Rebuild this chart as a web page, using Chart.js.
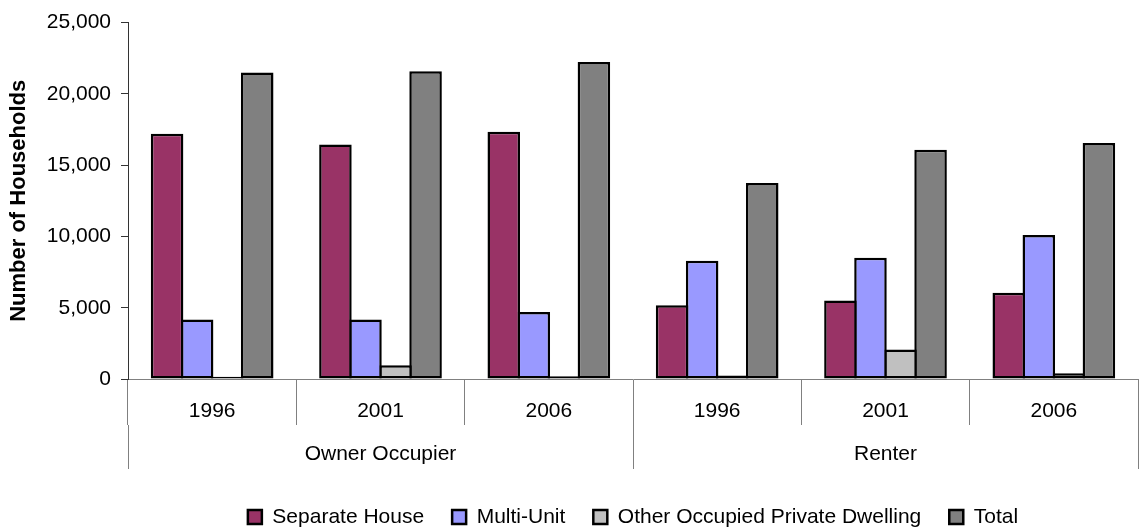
<!DOCTYPE html>
<html>
<head>
<meta charset="utf-8">
<title>Households by Dwelling Type</title>
<script src="https://cdn.jsdelivr.net/npm/chart.js@4"></script>
<style>
  html, body { margin: 0; padding: 0; background: #fff; }
  #wrap { width: 1140px; height: 528px; position: relative; }
</style>
</head>
<body>
<div id="wrap"><canvas id="householdsChart"></canvas></div>
<script>
// Census years (inner axis level) and tenure groups (outer axis level)
const years = ['1996', '2001', '2006', '1996', '2001', '2006'];
const tenureGroups = ['Owner Occupier', 'Renter'];

// Number of households per dwelling type
const separateHouse = [17200, 16450, 17340, 5170, 5500, 6050];
const multiUnit = [4170, 4170, 4700, 8290, 8500, 10100];
const otherDwelling = [150, 960, 200, 250, 2070, 400];
const totalHouseholds = [21500, 21580, 22230, 13740, 16080, 16550];

const yTicks = { min: 0, max: 25000, step: 5000 };

const FONT = '"Liberation Sans", Arial, sans-serif';
const AXIS_GREY = '#808080';

// bars overlap by one border width so neighbours share a single outline
function series(label, data, color) {
  return {
    label: label,
    data: data,
    backgroundColor: color,
    borderColor: '#000',
    borderWidth: 2.5,
    borderSkipped: false,
    categoryPercentage: 0.714,
    barPercentage: 1.083
  };
}

new Chart(document.getElementById('householdsChart'), {
  type: 'bar',
  data: {
    labels: years,
    datasets: [
      series('Separate House', separateHouse, '#993366'),
      series('Multi-Unit', multiUnit, '#9999FF'),
      series('Other Occupied Private Dwelling', otherDwelling, '#C0C0C0'),
      series('Total', totalHouseholds, '#808080')
    ]
  },
  options: {
    responsive: true,
    maintainAspectRatio: false,
    animation: false,
    layout: { padding: { top: 21, right: 2, left: 0, bottom: -9.5 } },
    plugins: {
      tooltip: { enabled: false },
      legend: {
        position: 'bottom',
        fullSize: false,
        labels: {
          boxWidth: 14,
          boxHeight: 14,
          padding: 28,
          color: '#000',
          font: { family: FONT, size: 21 }
        }
      }
    },
    scales: {
      x: {
        grid: { offset: true, drawOnChartArea: false, tickLength: 46, color: AXIS_GREY },
        border: { display: true, color: AXIS_GREY },
        ticks: { padding: -26, color: '#000', maxRotation: 0, autoSkip: false,
                 font: { family: FONT, size: 21 } },
        afterFit(scale) { scale.height = 46; }
      },
      x2: {
        type: 'category',
        labels: tenureGroups,
        position: 'bottom',
        offset: true,
        weight: 1,
        grid: { offset: true, drawOnChartArea: false, tickLength: 44, color: AXIS_GREY },
        border: { display: false },
        ticks: { padding: -27, color: '#000', maxRotation: 0, autoSkip: false,
                 font: { family: FONT, size: 21 } },
        afterFit(scale) { scale.height = 53.5; }
      },
      y: {
        min: yTicks.min,
        max: yTicks.max,
        grid: { drawOnChartArea: false, tickLength: 7, color: '#333' },
        border: { display: true, color: '#333' },
        ticks: { stepSize: yTicks.step, padding: 10, color: '#000',
                 font: { family: FONT, size: 21 } },
        title: {
          display: true,
          text: 'Number of Households',
          color: '#000',
          padding: { top: 6, bottom: 0 },
          font: { family: FONT, size: 22, weight: 'bold' }
        },
        afterFit(scale) { scale.width = 128; }
      }
    }
  }
});
</script>
</body>
</html>
